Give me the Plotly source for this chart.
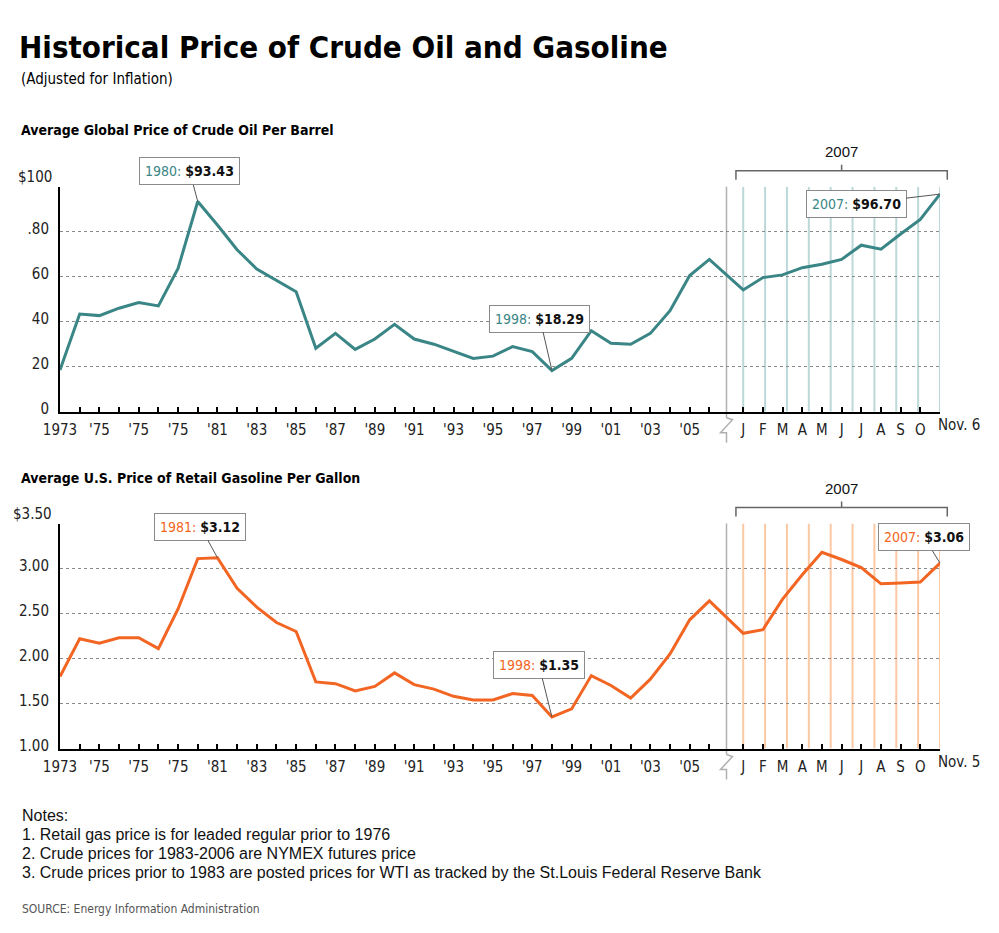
import plotly.graph_objects as go

# ---------------- DATA ----------------
years = list(range(1973, 2007))
months_2007 = ["J", "F", "M", "A", "M", "J", "J", "A", "S", "O", "Nov"]

crude_annual = [18.5, 43.4, 42.7, 46.0, 48.5, 47.0, 63.7, 93.43, 83.0, 72.0,
                63.4, 58.5, 53.3, 28.2, 34.8, 27.7, 32.3, 38.8, 32.3, 30.0,
                26.7, 23.7, 24.7, 28.9, 26.7, 18.29, 23.7, 36.0, 30.4, 30.0,
                34.8, 44.9, 60.5, 67.7]
crude_2007 = [54.1, 59.6, 60.8, 64.0, 65.5, 67.7, 74.0, 72.2, 79.0, 85.5, 96.70]

gas_annual = [1.80, 2.22, 2.17, 2.23, 2.23, 2.11, 2.55, 3.11, 3.12, 2.78,
              2.57, 2.40, 2.30, 1.74, 1.72, 1.64, 1.69, 1.84, 1.71, 1.66,
              1.58, 1.54, 1.54, 1.61, 1.59, 1.35, 1.44, 1.81, 1.70, 1.56,
              1.77, 2.05, 2.43, 2.64]
gas_2007 = [2.28, 2.32, 2.66, 2.93, 3.18, 3.10, 3.01, 2.83, 2.84, 2.85, 3.06]

# tick labels as printed on the original
year_labels = {1973: "1973", 1975: "'75", 1977: "'75", 1979: "'75", 1981: "'81",
               1983: "'83", 1985: "'85", 1987: "'87", 1989: "'89", 1991: "'91",
               1993: "'93", 1995: "'95", 1997: "'97", 1999: "'99", 2001: "'01",
               2003: "'03", 2005: "'05"}
month_labels = ["J", "F", "M", "A", "M", "J", "J", "A", "S", "O", ""]
crude_last_label = "Nov. 6"
gas_last_label = "Nov. 5"

crude_callouts = [(1980, 93.43), (1998, 18.29), ("2007", 96.70)]
gas_callouts = [(1981, 3.12), (1998, 1.35), ("2007", 3.06)]

# ---------------- STYLE / LAYOUT ----------------
W, H = 999, 933
TEAL = "#3a8585"
TEAL_LIGHT = "#bcd8d8"
ORANGE = "#f26522"
ORANGE_LIGHT = "#fcc8a4"
NARROW = "DejaVu Sans Condensed, Liberation Sans Narrow, Arial Narrow, sans-serif"
SANS = "Liberation Sans, Arial, Helvetica, sans-serif"

MONTH_START = 34.72          # position of January 2007 on the category axis
BREAK_POS = 33.87
X_RANGE = [0, MONTH_START + 10]
X_DOM = [60 / W, 940 / W]

x_years = [y - 1973 for y in years]
x_months = [MONTH_START + i for i in range(len(months_2007))]


def px_x(v):
    return X_DOM[0] + (v - X_RANGE[0]) / (X_RANGE[1] - X_RANGE[0]) * (X_DOM[1] - X_DOM[0])


def py(p):
    return 1 - p / H


def pxp(p):
    return p / W


top_dom = [py(411.7), py(186.7)]
bot_dom = [py(748.5), py(523.5)]

tickvals = x_years + x_months
ticktext = [year_labels.get(y, "") for y in years] + month_labels

fig = go.Figure()
fig.add_trace(go.Scatter(x=x_years + x_months, y=crude_annual + crude_2007,
                         mode="lines", line=dict(color=TEAL, width=3),
                         xaxis="x", yaxis="y", hoverinfo="skip"))
fig.add_trace(go.Scatter(x=x_years + x_months, y=gas_annual + gas_2007,
                         mode="lines", line=dict(color=ORANGE, width=3),
                         xaxis="x2", yaxis="y2", hoverinfo="skip"))

xcommon = dict(range=X_RANGE, domain=X_DOM, showline=True, linecolor="black",
               linewidth=2, ticks="inside", ticklen=5, tickwidth=1.5,
               tickcolor="black", tickvals=tickvals, ticktext=ticktext,
               showgrid=False, zeroline=False, automargin=False,
               ticklabelstandoff=3,
               tickfont=dict(family=NARROW, size=15, color="#222"))
ycommon = dict(showline=True, linecolor="black", linewidth=2, ticks="",
               showgrid=True, gridcolor="#8a8a8a", griddash="dot", gridwidth=1,
               zeroline=False, ticklabelstandoff=6, ticklabelshift=-3, automargin=False,
               tickfont=dict(family=NARROW, size=15, color="#222"))

fig.update_layout(
    width=W, height=H, margin=dict(l=0, r=0, t=0, b=0, autoexpand=False),
    paper_bgcolor="white", plot_bgcolor="white", showlegend=False,
    xaxis=dict(anchor="y", **xcommon),
    yaxis=dict(anchor="x", domain=top_dom, range=[0, 100],
               tickvals=[0, 20, 40, 60, 80, 100],
               ticktext=["0", "20", "40", "60", ".80", ""], **ycommon),
    xaxis2=dict(anchor="y2", **xcommon),
    yaxis2=dict(anchor="x2", domain=bot_dom, range=[1, 3.5],
                tickvals=[1, 1.5, 2, 2.5, 3, 3.5],
                ticktext=["1.00", "1.50", "2.00", "2.50", "3.00", ""], **ycommon),
)

shapes = []
ann = []


def text_ann(x, y, text, size, family=NARROW, color="#111", xanchor="left", xref="paper"):
    return dict(xref=xref, yref="paper", x=x, y=y, text=text, showarrow=False,
                xanchor=xanchor, yanchor="middle",
                font=dict(family=family, size=size, color=color))


# month reference lines, break marker, 2007 bracket
for (xa, ya, light, ylo, yhi, top_px, axis_px) in [
        ("x", "y", TEAL_LIGHT, 0, 100, 186.7, 411.7),
        ("x2", "y2", ORANGE_LIGHT, 1, 3.5, 523.5, 748.5)]:
    n = 10
    for k in range(n):
        xv = MONTH_START + k * (10 / (n - 1))
        shapes.append(dict(type="line", xref=xa, yref=ya, x0=xv, x1=xv, y0=ylo, y1=yhi,
                           line=dict(color=light, width=2), layer="below"))
    bx = px_x(BREAK_POS)
    shapes.append(dict(type="line", xref="paper", yref="paper", x0=bx, x1=bx,
                       y0=py(axis_px + 6), y1=py(top_px), line=dict(color="#b0b0b0", width=1.5),
                       layer="below"))
    bxp = bx * W
    path = (f"M {pxp(bxp)},{py(axis_px + 6)} L {pxp(bxp + 6)},{py(axis_px + 8)} "
            f"L {pxp(bxp - 6)},{py(axis_px + 21)} L {pxp(bxp)},{py(axis_px + 21)} "
            f"L {pxp(bxp)},{py(axis_px + 31)}")
    shapes.append(dict(type="path", xref="paper", yref="paper", path=path,
                       line=dict(color="#b0b0b0", width=1.5)))
    # bracket
    left = px_x(MONTH_START - 0.37)
    right = px_x(X_RANGE[1] + 0.37)
    mid = (left + right) / 2
    by = top_px - 16
    bpath = (f"M {left},{py(by + 9)} L {left},{py(by)} L {right},{py(by)} L {right},{py(by + 9)}")
    shapes.append(dict(type="path", xref="paper", yref="paper", path=bpath,
                       line=dict(color="#666", width=1.5)))
    shapes.append(dict(type="line", xref="paper", yref="paper", x0=mid, x1=mid,
                       y0=py(by), y1=py(by - 6), line=dict(color="#666", width=1.5)))
    ann.append(text_ann(mid, py(by - 19), "2007", 15, family=SANS, xanchor="center"))

# $ top labels
ann.append(text_ann(pxp(54), py(177), "$100", 15, color="#222", xanchor="right"))
ann.append(text_ann(pxp(54), py(514), "$3.50", 15, color="#222", xanchor="right"))

# Nov labels
ann.append(dict(xref="x", yref="paper", x=X_RANGE[1], y=py(425), text=crude_last_label,
                xanchor="left", yanchor="middle", xshift=-4, showarrow=False,
                font=dict(family=NARROW, size=15, color="#222")))
ann.append(dict(xref="x2", yref="paper", x=X_RANGE[1], y=py(762), text=gas_last_label,
                xanchor="left", yanchor="middle", xshift=-4, showarrow=False,
                font=dict(family=NARROW, size=15, color="#222")))


def callout(xa, ya, label, val, color, fmt, ax, ay):
    if label == "2007":
        xv = X_RANGE[1]
    else:
        xv = label - 1973
    text = (f"<span style='color:{color}'>{label}:</span> "
            f"<span style='color:#111'><b>{fmt.format(val)}</b></span>")
    return dict(xref=xa, yref=ya, x=xv, y=val, text=text, showarrow=True,
                arrowhead=0, arrowwidth=1, arrowcolor="#555", ax=ax, ay=ay,
                bgcolor="white", bordercolor="#8a8a8a", borderwidth=1, borderpad=5,
                font=dict(family=NARROW, size=14))


offs_top = [(-8, -30), (-12, -52), (-84, 10)]
offs_bot = [(-17, -31), (-13, -52), (-16, -26)]
for (lab, val), (ax, ay) in zip(crude_callouts, offs_top):
    ann.append(callout("x", "y", lab, val, TEAL, "${:.2f}", ax, ay))
for (lab, val), (ax, ay) in zip(gas_callouts, offs_bot):
    ann.append(callout("x2", "y2", lab, val, ORANGE, "${:.2f}", ax, ay))

# titles & notes
ann.append(text_ann(pxp(17), py(47), "<b>Historical Price of Crude Oil and Gasoline</b>", 31,
                    color="black"))
ann.append(text_ann(pxp(19), py(79), "(Adjusted for Inflation)", 15, color="black"))
ann.append(text_ann(pxp(19), py(130), "<b>Average Global Price of Crude Oil Per Barrel</b>", 14,
                    color="black"))
ann.append(text_ann(pxp(19), py(478), "<b>Average U.S. Price of Retail Gasoline Per Gallon</b>", 14,
                    color="black"))
notes = ["Notes:",
         "1. Retail gas price is for leaded regular prior to 1976",
         "2. Crude prices for 1983-2006 are NYMEX futures price",
         "3. Crude prices prior to 1983 are posted prices for WTI as tracked by the St.Louis Federal Reserve Bank"]
for i, t in enumerate(notes):
    ann.append(text_ann(pxp(20), py(815 + i * 19), t, 16, family=SANS, color="#111"))
ann.append(text_ann(pxp(20), py(909), "SOURCE: Energy Information Administration", 12,
                    color="#555"))

fig.update_layout(shapes=shapes, annotations=ann)
fig.write_html("out.html")
